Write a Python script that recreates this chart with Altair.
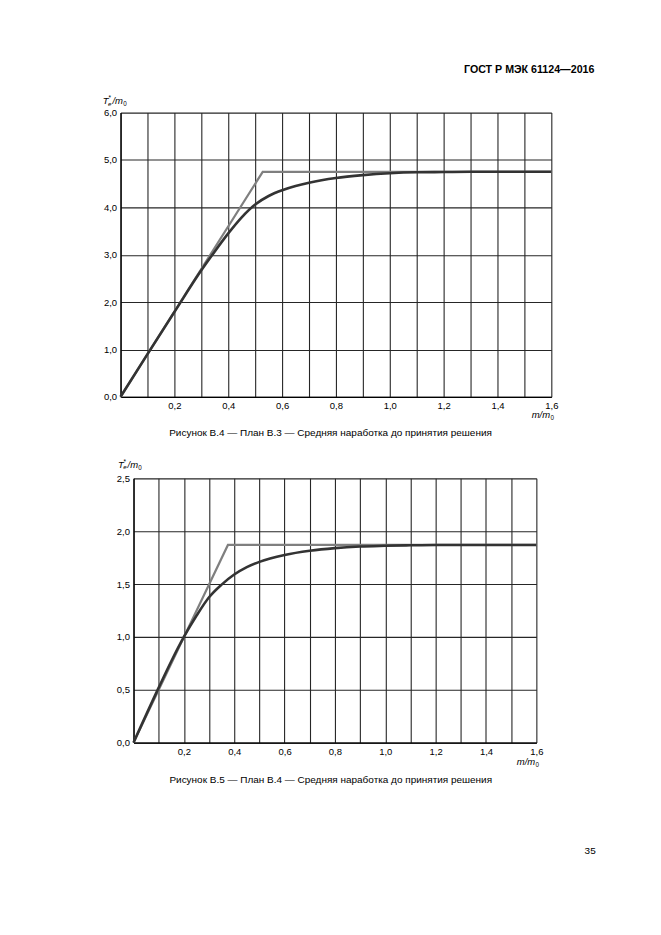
import altair as alt
import pandas as pd

FONT = "Liberation Sans"

HEADER = ["ГОСТ Р МЭК 61124—2016"]
CAPTIONS = [
    "Рисунок В.4 — План В.3 — Средняя наработка до принятия решения",
    "Рисунок В.5 — План В.4 — Средняя наработка до принятия решения",
]
PAGE = ["35"]

X_TICKS = [0.0, 0.1, 0.2, 0.3, 0.4, 0.5, 0.6, 0.7, 0.8, 0.9, 1.0,
           1.1, 1.2, 1.3, 1.4, 1.5, 1.6]
Y_TICKS_B4 = [0.0, 1.0, 2.0, 3.0, 4.0, 5.0, 6.0]
Y_TICKS_B5 = [0.0, 0.5, 1.0, 1.5, 2.0, 2.5]

# Figure B.4 (plan B.3)
B4_CURVE_X = [0.0, 0.1, 0.2, 0.3, 0.35, 0.4, 0.45, 0.5, 0.55, 0.6, 0.65, 0.7,
              0.8, 0.9, 1.0, 1.1, 1.2, 1.3, 1.4, 1.5, 1.6]
B4_CURVE_Y = [0.0, 0.9, 1.79, 2.67, 3.07, 3.45, 3.79, 4.06, 4.24, 4.36, 4.45, 4.52,
              4.62, 4.68, 4.72, 4.74, 4.745, 4.75, 4.75, 4.75, 4.75]
B4_LIMIT_X = [0.0, 0.528, 1.6]
B4_LIMIT_Y = [0.0, 4.75, 4.75]

# Figure B.5 (plan B.4)
B5_CURVE_X = [0.0, 0.1, 0.15, 0.2, 0.25, 0.3, 0.35, 0.4, 0.45, 0.5, 0.6, 0.7,
              0.8, 0.9, 1.0, 1.1, 1.2, 1.4, 1.6]
B5_CURVE_Y = [0.0, 0.52, 0.77, 1.0, 1.2, 1.375, 1.495, 1.59, 1.66, 1.71, 1.775, 1.815,
              1.84, 1.855, 1.862, 1.867, 1.87, 1.87, 1.87]
B5_LIMIT_X = [0.0, 0.375, 1.6]
B5_LIMIT_Y = [0.0, 1.87, 1.87]

XLAB = ("datum.value > 0.05 && round(datum.value * 10) % 2 == 0 ? "
        "replace(format(datum.value, '.1f'), '.', ',') : ''")
YLAB = "replace(format(datum.value, '.1f'), '.', ',')"


def text_layer(s, x, y, size, align="left", baseline="alphabetic",
               style="normal", weight="normal"):
    return alt.Chart(pd.DataFrame({"t": [s]})).mark_text(
        font=FONT, fontSize=size, align=align, baseline=baseline,
        fontStyle=style, fontWeight=weight, color="black",
    ).encode(text="t:N", x=alt.value(x), y=alt.value(y))


def y_title(x0, y0):
    return [
        text_layer("T", x0, y0, 9.5, style="italic"),
        text_layer("*", x0 + 5.6, y0 - 3.6, 6.5),
        text_layer("e", x0 + 5.2, y0 + 1.9, 6.2, style="italic"),
        text_layer("/m", x0 + 9.6, y0, 9.5, style="italic"),
        text_layer("0", x0 + 20.4, y0 + 2.3, 6.3),
    ]


def x_title(w, y0):
    return [
        text_layer("m/m", w - 1.2, y0, 9.5, align="right", style="italic"),
        text_layer("0", w + 2.6, y0 + 2.3, 6.3, align="right"),
    ]


def panel(cx, cy, lx, ly, yticks, ymax, w, h, extra):
    x_enc = alt.X(
        "x:Q",
        scale=alt.Scale(domain=[0, 1.6], nice=False, zero=False),
        axis=alt.Axis(values=X_TICKS, labelExpr=XLAB, title=None, grid=True),
    )
    y_enc = alt.Y(
        "y:Q",
        scale=alt.Scale(domain=[0, ymax], nice=False, zero=False),
        axis=alt.Axis(values=yticks, labelExpr=YLAB, title=None, grid=True,
                      minExtent=0),
    )
    limit = alt.Chart(pd.DataFrame({"x": lx, "y": ly})).mark_line(
        color="#7f7f7f", strokeWidth=2.2
    ).encode(x=x_enc, y=y_enc)
    curve = alt.Chart(pd.DataFrame({"x": cx, "y": cy})).mark_line(
        color="#333333", strokeWidth=2.6, interpolate="monotone"
    ).encode(x=x_enc, y=y_enc)
    return alt.layer(limit, curve, *extra).properties(width=w, height=h)


W1, H1 = 432, 285
W2, H2 = 404, 265

top_extra = (
    [text_layer(HEADER[0], 475.3, -48, 10.7, align="right", baseline="top",
                weight="bold")]
    + y_title(-17.8, -9)
    + x_title(W1, H1 + 21)
    + [text_layer(CAPTIONS[0], 210.6, 324, 10, align="center")]
)
bottom_extra = (
    y_title(-15.6, -10.8)
    + x_title(W2, H2 + 22.5)
    + [text_layer(CAPTIONS[1], 197.8, 306, 10, align="center"),
       text_layer(PAGE[0], 463.5, 376.5, 10, align="right")]
)

top = panel(B4_CURVE_X, B4_CURVE_Y, B4_LIMIT_X, B4_LIMIT_Y, Y_TICKS_B4, 6.0,
            W1, H1, top_extra)
bottom = panel(B5_CURVE_X, B5_CURVE_Y, B5_LIMIT_X, B5_LIMIT_Y, Y_TICKS_B5, 2.5,
               W2, H2, bottom_extra)

spacer = alt.Chart(pd.DataFrame({"t": [""]})).mark_text().encode(
    text="t:N"
).properties(width=12.8, height=H2)

row2 = alt.hconcat(spacer, bottom, spacing=0, bounds="flush")

chart = alt.vconcat(top, row2, spacing=81.8, bounds="flush").properties(
    padding={"left": 102.9, "top": 62.6, "right": 65, "bottom": 79},
    background="white",
).configure_view(
    strokeWidth=0
).configure_axis(
    labelFont=FONT, labelFontSize=9.5, labelColor="black", labelPadding=4,
    labelFlush=False, ticks=False,
    domainColor="black", domainWidth=1.3,
    gridColor="#262626", gridWidth=1.1, gridOpacity=1,
)

chart.save("out.html", embed_options={"renderer": "svg", "actions": False})
